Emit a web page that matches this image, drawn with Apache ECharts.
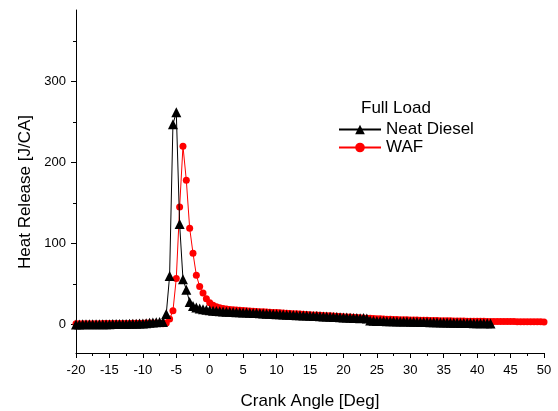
<!DOCTYPE html>
<html>
<head>
<meta charset="utf-8">
<script src="https://cdn.jsdelivr.net/npm/echarts@6/dist/echarts.min.js"></script>
<style>
  html, body { margin: 0; padding: 0; background: #fff; }
  #chart { width: 558px; height: 411px; }
</style>
</head>
<body>
<div id="chart"></div>
<script>
// crank angle grid, 0.5 deg resolution
const angleStart = -20;
const angleStep = 0.5;

// Neat Diesel heat release [J/CA], -20 .. 42 deg
const neatDiesel = [
  0.3, 0.3, 0.4, 0.4, 0.4, 0.5, 0.5, 0.5, 0.6, 0.6,
  0.6, 0.7, 0.7, 0.8, 0.8, 0.9, 1.0, 1.0, 1.1, 1.3,
  1.5, 1.8, 2.2, 2.6, 2.9, 3.1, 3.3, 13, 60, 247,
  262, 124, 56, 43, 28, 23, 21, 20, 19, 18.2,
  17.6, 17.2, 16.8, 16.5, 16.2, 16.0, 15.8, 15.6, 15.4, 15.2,
  15.0, 14.8, 14.6, 14.4, 14.2, 14.0, 13.7, 13.5, 13.3, 13.1,
  12.9, 12.7, 12.5, 12.3, 12.1, 11.9, 11.7, 11.5, 11.3, 11.1,
  10.9, 10.7, 10.5, 10.3, 10.1, 9.9, 9.7, 9.5, 9.3, 9.1,
  8.9, 8.7, 8.5, 8.3, 8.1, 7.9, 8.2, 7.6, 5.2, 4.8,
  4.6, 4.5, 4.4, 4.3, 4.2, 4.1, 4.0, 3.9, 3.8, 3.7,
  3.6, 3.5, 3.4, 3.3, 3.2, 3.1, 3.0, 2.9, 2.8, 2.7,
  2.6, 2.5, 2.4, 2.3, 2.2, 2.1, 2.0, 2.0, 1.9, 1.8,
  1.8, 1.7, 1.6, 1.6, 1.5
];

// WAF heat release [J/CA], -20 .. 50 deg
const waf = [
  1.0, 1.0, 1.1, 1.1, 1.1, 1.2, 1.2, 1.2, 1.3, 1.3,
  1.3, 1.4, 1.4, 1.4, 1.5, 1.5, 1.5, 1.6, 1.6, 1.7,
  1.8, 1.9, 2.0, 2.1, 2.0, 1.8, 1.2, 2.0, 7.0, 17,
  57, 145, 220, 178, 119, 88, 61, 47, 39, 32,
  27, 24, 22, 20.8, 19.9, 19.2, 18.7, 18.3, 18.0, 17.7,
  17.4, 17.1, 16.8, 16.6, 16.3, 16.0, 15.8, 15.5, 15.3, 15.0,
  14.8, 14.5, 14.3, 14.0, 13.8, 13.5, 13.3, 13.0, 12.8, 12.5,
  12.3, 12.0, 11.8, 11.5, 11.3, 11.0, 10.8, 10.5, 10.3, 10.0,
  9.8, 9.5, 9.3, 9.0, 8.8, 8.5, 8.3, 8.0, 7.8, 7.5,
  7.3, 7.1, 6.9, 6.7, 6.5, 6.4, 6.2, 6.1, 6.0, 5.9,
  5.8, 5.7, 5.6, 5.5, 5.4, 5.3, 5.2, 5.1, 5.0, 4.9,
  4.8, 4.7, 4.7, 4.6, 4.5, 4.5, 4.4, 4.3, 4.3, 4.2,
  4.2, 4.1, 4.1, 4.0, 4.0, 3.9, 3.9, 3.8, 3.8, 3.7,
  3.7, 3.7, 3.6, 3.6, 3.5, 3.5, 3.5, 3.4, 3.4, 3.4,
  3.3
];

const yMajorTicks = [0, 100, 200, 300];
const yMinorTicks = [50, 150, 250, 350];

const font = 'Liberation Sans, Arial, sans-serif';

function toPairs(values) {
  return values.map((v, i) => [angleStart + i * angleStep, v]);
}

const chart = echarts.init(document.getElementById('chart'));

const option = {
  animation: false,
  backgroundColor: '#fff',
  grid: {
    left: 76,
    right: 14,
    top: 10,
    bottom: 58,
    containLabel: false,
    outerBoundsMode: 'none'
  },
  legend: {
    data: ['Neat Diesel', 'WAF'],
    orient: 'vertical',
    left: 333,
    top: 116,
    itemWidth: 42,
    itemHeight: 12,
    itemGap: 1,
    textStyle: { fontSize: 17, color: '#000', fontFamily: font }
  },
  graphic: [
    {
      type: 'text',
      left: 361,
      top: 100,
      style: { text: 'Full Load', fontSize: 17, fill: '#000', fontFamily: font }
    },
    {
      type: 'text',
      x: 25,
      y: 192,
      rotation: Math.PI / 2,
      style: {
        text: 'Heat Release [J/CA]',
        fontSize: 17,
        fill: '#000',
        fontFamily: font,
        align: 'center',
        verticalAlign: 'middle'
      }
    }
  ],
  xAxis: {
    type: 'value',
    min: -20,
    max: 50,
    interval: 5,
    name: 'Crank Angle [Deg]',
    nameLocation: 'middle',
    nameGap: 40,
    nameTextStyle: { fontSize: 17, color: '#000', fontFamily: font },
    axisLine: { onZero: false, lineStyle: { color: '#000', width: 1 } },
    axisTick: { length: 5, lineStyle: { color: '#000' } },
    minorTick: { show: true, splitNumber: 2, length: 3, lineStyle: { color: '#000' } },
    axisLabel: { fontSize: 13, color: '#000', fontFamily: font, margin: 11 },
    splitLine: { show: false }
  },
  yAxis: [
    {
      type: 'value',
      min: -35,
      max: 388,
      position: 'left',
      axisLine: { show: true, onZero: false, lineStyle: { color: '#000', width: 1 } },
      axisTick: { show: true, length: 5, customValues: yMajorTicks, lineStyle: { color: '#000' } },
      axisLabel: { fontSize: 13, color: '#000', fontFamily: font, margin: 10, customValues: yMajorTicks },
      splitLine: { show: false }
    },
    {
      type: 'value',
      min: -35,
      max: 388,
      position: 'left',
      axisLine: { show: false, onZero: false },
      axisTick: { show: true, length: 3, customValues: yMinorTicks, lineStyle: { color: '#000' } },
      axisLabel: { show: false },
      splitLine: { show: false }
    }
  ],
  series: [
    {
      name: 'Neat Diesel',
      type: 'line',
      yAxisIndex: 0,
      z: 3,
      data: toPairs(neatDiesel),
      symbol: 'triangle',
      symbolSize: 10,
      showAllSymbol: true,
      color: '#000',
      lineStyle: { color: '#000', width: 1 },
      itemStyle: { color: '#000' }
    },
    {
      name: 'WAF',
      type: 'line',
      yAxisIndex: 0,
      z: 2,
      data: toPairs(waf),
      symbol: 'circle',
      symbolSize: 7,
      showAllSymbol: true,
      color: '#ff0000',
      lineStyle: { color: '#ff0000', width: 1 },
      itemStyle: { color: '#ff0000' }
    }
  ]
};

chart.setOption(option);
</script>
</body>
</html>
